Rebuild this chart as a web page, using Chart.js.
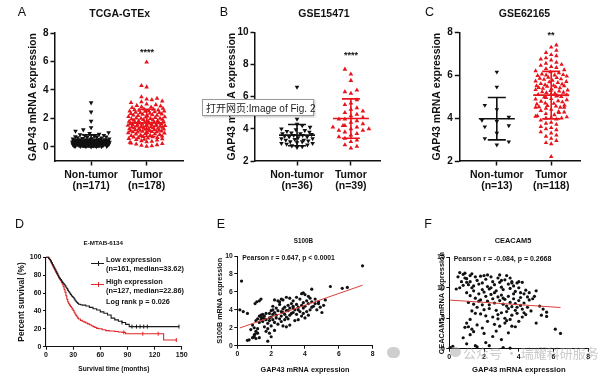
<!DOCTYPE html>
<html><head><meta charset="utf-8">
<script src="https://cdn.jsdelivr.net/npm/chart.js@4.4.1/dist/chart.umd.min.js"></script>
<style>
html,body{margin:0;padding:0;background:#fff;}
body{width:600px;height:382px;position:relative;overflow:hidden;font-family:"Liberation Sans",Arial,Helvetica,sans-serif;}
canvas{position:absolute;}
.t{position:absolute;white-space:nowrap;color:#111;line-height:1;}
.cc{transform:translate(-50%,-50%);}
.lc{transform:translateY(-50%);}
</style></head><body>
<canvas id="cA"></canvas><canvas id="cB"></canvas><canvas id="cC"></canvas>
<canvas id="cD"></canvas><canvas id="cE"></canvas><canvas id="cF"></canvas>
<div id="ov"></div>
<script>
// ================= DATA =================
const groupLabels = ['Non-tumor', 'Tumor'];
const nLabelsA = ['(n=171)', '(n=178)'];
const nLabelsB = ['(n=36)', '(n=39)'];
const nLabelsC = ['(n=13)', '(n=118)'];
const yTicksA = [0, 2, 4, 6, 8];
const yTicksB = [2, 4, 6, 8, 10];
const yTicksC = [2, 4, 6, 8];

const aNonTumor = [3.1, 2.45, 1.8, 1.35, 1.2, 1.1, 1.0, 0.95, 0.9, 0.85, 0.8, 0.78, 0.75, 0.72, 0.7, 0.68, 0.66, 0.64, 0.62, 0.6,
  0.58, 0.56, 0.55, 0.54, 0.52, 0.51, 0.5, 0.5, 0.49, 0.48, 0.47, 0.46, 0.45, 0.45, 0.44, 0.43, 0.42, 0.42, 0.41, 0.4,
  0.4, 0.4, 0.39, 0.38, 0.38, 0.37, 0.37, 0.36, 0.36, 0.35, 0.35, 0.35, 0.34, 0.34, 0.33, 0.33, 0.32, 0.32, 0.31, 0.31,
  0.3, 0.3, 0.3, 0.3, 0.29, 0.29, 0.28, 0.28, 0.27, 0.27, 0.26, 0.26, 0.25, 0.25, 0.25, 0.24, 0.24, 0.23, 0.23, 0.22,
  0.22, 0.21, 0.21, 0.2, 0.2, 0.2, 0.19, 0.19, 0.18, 0.18, 0.17, 0.17, 0.16, 0.16, 0.15, 0.15, 0.14, 0.13, 0.13, 0.12,
  0.12, 0.11, 0.1, 0.1, 0.09, 0.08, 0.08, 0.07, 0.06, 0.05, 0.05, 0.04, 0.03, 0.02, 0.02, 0.01, 0.0];
const aTumor = [5.95, 4.3, 4.2, 3.5, 3.4, 3.35, 3.3, 3.2, 3.15, 3.1, 3.0,
  2.95, 2.9, 2.85, 2.8, 2.78, 2.75, 2.7, 2.65, 2.62, 2.6, 2.58, 2.55, 2.52, 2.5, 2.5,
  2.48, 2.45, 2.42, 2.4, 2.38, 2.35, 2.33, 2.3, 2.28, 2.25, 2.22, 2.2, 2.18, 2.15, 2.12, 2.1, 2.08, 2.05, 2.02, 2.0, 2.0,
  1.98, 1.95, 1.93, 1.9, 1.88, 1.86, 1.84, 1.82, 1.8, 1.78, 1.76, 1.74, 1.72, 1.7, 1.68, 1.66, 1.64, 1.62, 1.6, 1.58,
  1.56, 1.55, 1.54, 1.52, 1.5, 1.5, 1.49, 1.48, 1.46, 1.45, 1.44, 1.42, 1.4, 1.38, 1.36, 1.35, 1.34, 1.32, 1.3, 1.28,
  1.26, 1.25, 1.24, 1.22, 1.2, 1.18, 1.16, 1.15, 1.14, 1.12, 1.1, 1.08, 1.06, 1.05, 1.04, 1.02, 1.0,
  0.98, 0.95, 0.92, 0.9, 0.88, 0.85, 0.82, 0.8, 0.78, 0.75, 0.72, 0.7, 0.68, 0.65, 0.62, 0.6, 0.58, 0.55, 0.52, 0.5,
  0.46, 0.42, 0.38, 0.34, 0.3, 0.26, 0.22, 0.18, 0.14, 0.1, 0.06, 0.02];
const bNonTumor = [6.6, 4.6, 4.3, 4.2, 4.1, 4.0, 3.95, 3.9, 3.85, 3.8, 3.75, 3.7, 3.7, 3.65, 3.6, 3.6, 3.55, 3.5,
  3.5, 3.45, 3.4, 3.4, 3.35, 3.3, 3.3, 3.25, 3.2, 3.2, 3.15, 3.1, 3.1, 3.05, 3.0, 2.95, 2.9, 2.85];
const bTumor = [7.7, 7.4, 7.0, 6.4, 6.3, 6.2, 5.8, 5.6, 5.5, 5.3, 5.2, 5.1, 5.0, 4.9, 4.8, 4.7, 4.6, 4.6, 4.5, 4.4,
  4.3, 4.2, 4.2, 4.1, 4.1, 4.0, 4.0, 3.9, 3.9, 3.8, 3.7, 3.6, 3.5, 3.4, 3.3, 3.2, 3.0, 2.9, 2.8];
const cNonTumor = [6.15, 5.45, 4.6, 4.4, 4.05, 3.9, 3.85, 3.65, 3.6, 3.3, 3.05, 2.9, 2.75];
const cTumor = [7.4, 7.3, 7.15, 7.05,
  6.95, 6.9, 6.8, 6.75, 6.7, 6.6, 6.55, 6.5,
  6.45, 6.4, 6.35, 6.3, 6.25, 6.2, 6.15, 6.1, 6.05, 6.0, 6.0, 6.02,
  5.98, 5.95, 5.9, 5.88, 5.85, 5.82, 5.8, 5.75, 5.72, 5.7, 5.68, 5.65, 5.6, 5.58, 5.55, 5.52, 5.5, 5.5,
  5.48, 5.45, 5.42, 5.4, 5.38, 5.35, 5.32, 5.3, 5.28, 5.25, 5.22, 5.2, 5.18, 5.15, 5.12, 5.1, 5.08, 5.05, 5.02, 5.0,
  4.98, 4.95, 4.9, 4.88, 4.85, 4.8, 4.78, 4.75, 4.7, 4.68, 4.65, 4.6, 4.58, 4.55, 4.52, 4.5, 4.5, 4.5,
  4.45, 4.4, 4.35, 4.3, 4.28, 4.25, 4.2, 4.15, 4.1, 4.08, 4.05, 4.0, 4.0, 4.02,
  3.95, 3.9, 3.8, 3.75, 3.7, 3.6, 3.55, 3.5,
  3.45, 3.35, 3.3, 3.2, 3.15, 3.05,
  2.95, 2.85, 2.8, 2.2];

// Kaplan-Meier (E-MTAB-6134)
const kmXTicks = [0, 30, 60, 90, 120, 150];
const kmYTicks = [0, 20, 40, 60, 80, 100];
const kmLowTime = [0, 2, 3, 4, 5, 6, 7, 8, 9, 10, 11, 12, 13, 14, 15, 16, 17, 18, 19, 20, 21, 22, 23, 24, 25, 26, 27, 28, 29, 30,
  31, 32, 33, 34, 35, 36, 38, 40, 44, 48, 52, 56, 60, 64, 68, 72, 76, 80, 84, 88, 92, 147];
const kmLowSurv = [100, 100, 98.8, 97.5, 96, 94, 92, 90, 88, 86, 84, 82, 80, 78, 76.5, 75, 73.5, 72, 71, 69.5, 68, 66.5, 65, 63, 61.5, 60, 58.5, 57, 56, 55,
  53.5, 52, 50.5, 49.5, 48.5, 47.5, 47, 46.5, 45.5, 44, 42.5, 41, 39, 37.5, 35.5, 32, 30, 28.5, 27, 25, 22.5, 22.5];
const kmHighTime = [0, 2, 3, 4, 5, 6, 7, 8, 9, 10, 11, 12, 13, 14, 15, 16, 17, 18, 19, 20, 21, 22, 23, 24, 25, 26, 27, 28, 29, 30,
  31, 32, 33, 34, 35, 36, 38, 40, 42, 44, 46, 48, 50, 52, 54, 56, 58, 62, 66, 70, 76, 80, 84, 88, 130, 145];
const kmHighSurv = [100, 100, 98.5, 97, 95, 93, 91, 89, 87, 85, 83, 81, 79, 77, 75.5, 74, 72, 70, 67, 64, 61, 57, 53, 50, 48, 46.5, 45, 43.5, 42, 40.5,
  38.5, 36.5, 35, 33.5, 32, 31, 29.5, 28.5, 27.5, 26.5, 25.5, 24.5, 23.5, 22.5, 21.5, 20.5, 20, 19, 18, 17.5, 17, 16.5, 16, 14.5, 7.5, 7.5];
const kmLowCensor = [84, 95, 100, 104, 108, 112, 147];
const kmHighCensor = [86, 107, 124, 144];
const kmLegend = ['Low expression', '(n=161, median=33.62)', 'High expression', '(n=127, median=22.86)', 'Log rank p = 0.026'];

// Correlations
const eTicksX = [0, 2, 4, 6, 8], eTicksY = [0, 2, 4, 6, 8, 10];
const fTicksX = [0, 2, 4, 6, 8], fTicksY = [0, 5, 10, 15];
const eGap43 = [0.6, 0.7, 0.9, 1.1, 1.3, 1.8, 1.0, 1.1, 1.2, 0.9, 1.0, 1.05, 1.3, 1.4, 1.5, 1.6, 1.2, 1.4, 1.1, 0.8, 1.7, 1.9, 2.0, 1.6, 1.8, 1.9, 2.0, 2.1, 1.7, 1.5,
  1.3, 1.4, 1.05, 1.15, 2.2, 2.4, 2.6, 2.9, 3.1, 3.3, 3.5, 3.8, 3.9, 4.0, 4.2, 4.3, 4.6, 4.8, 4.1, 3.7, 3.2, 3.0, 2.8, 2.5, 2.3, 2.1, 2.0, 2.2, 2.4, 2.6,
  2.7, 2.9, 3.1, 3.3, 3.5, 3.6, 3.8, 3.9, 4.0, 4.2, 4.4, 4.5, 4.7, 4.9, 5.0, 5.1, 4.3, 4.1, 3.9, 3.7, 3.5, 3.3, 3.1, 2.9, 2.8, 2.6, 2.5, 2.3, 2.1, 2.2,
  2.4, 2.6, 2.8, 3.0, 3.2, 3.4, 2.7, 2.9, 3.1, 3.4, 3.6, 3.8, 4.0, 4.2, 2.0, 1.8, 1.5, 1.7, 1.9, 2.3, 2.7, 3.0, 3.3, 3.6, 3.9, 4.4, 4.6, 4.8, 1.9, 2.1,
  2.5, 2.7, 1.6, 1.4, 1.3, 2.2, 1.2, 1.0, 5.5, 6.2, 6.5, 7.4, 0.25, 0.15, 0.35, 0.6, 4.4, 5.2];
const eS100b = [0.6, 0.65, 0.9, 0.8, 0.9, 0.5, 1.2, 1.6, 1.9, 2.3, 2.0, 1.3, 2.6, 2.9, 3.1, 3.3, 3.0, 3.4, 2.8, 1.8, 1.6, 1.4, 1.0, 2.1, 2.5, 2.8, 3.2, 3.5, 3.6, 3.5,
  5.0, 5.2, 4.7, 4.9, 5.1, 5.0, 5.2, 5.4, 5.3, 5.0, 5.4, 5.8, 5.9, 5.7, 5.5, 5.3, 5.2, 4.7, 5.0, 5.2, 4.7, 4.5, 4.3, 4.6, 4.2, 4.0, 3.9, 3.7, 3.9, 3.8,
  4.1, 3.9, 4.2, 4.4, 4.6, 4.3, 4.5, 4.8, 4.4, 4.7, 4.9, 4.4, 4.0, 4.3, 3.7, 4.5, 4.0, 3.8, 3.6, 3.8, 3.5, 3.7, 3.4, 3.2, 3.5, 3.3, 3.0, 3.1, 2.9, 2.6,
  2.4, 2.7, 2.9, 3.0, 3.6, 4.0, 2.2, 2.1, 2.3, 2.8, 2.9, 3.3, 3.1, 3.4, 2.2, 1.9, 2.7, 2.9, 3.1, 3.4, 3.7, 3.9, 4.2, 4.0, 4.2, 4.3, 4.7, 4.9, 3.6, 4.4,
  4.9, 5.1, 3.0, 3.2, 3.3, 1.7, 1.4, 1.0, 6.6, 6.4, 6.5, 8.9, 7.2, 4.0, 3.8, 3.6, 6.3, 5.1];
const fGap43 = [0.6, 0.8, 0.6, 1.0, 1.2, 1.1, 1.3, 1.5, 1.6, 1.8, 1.9, 2.0, 2.1, 2.2, 2.3, 2.5, 2.6, 2.7, 2.8, 2.9, 3.0, 3.1, 3.2, 3.3, 3.4, 3.5, 3.6, 3.7, 3.8, 3.9,
  4.0, 4.1, 4.2, 4.4, 4.5, 4.8, 5.0, 1.0, 1.2, 1.4, 1.5, 1.7, 1.8, 2.0, 2.1, 2.2, 2.4, 2.5, 2.6, 2.8, 2.9, 3.0, 3.1, 3.2, 3.3, 3.4, 3.5, 3.6, 3.7, 3.8,
  3.9, 4.0, 4.1, 4.2, 4.3, 4.5, 4.6, 4.7, 5.2, 5.4, 5.6, 5.3, 1.3, 1.6, 1.9, 2.3, 2.7, 3.0, 3.3, 3.6, 3.9, 4.2, 4.4, 4.0, 2.5, 2.8, 3.2, 3.5, 2.1, 1.8,
  1.5, 1.2, 1.0, 0.9, 1.1, 1.3, 0.8, 1.0, 1.2, 1.4, 1.6, 1.9, 2.0, 2.1, 2.3, 2.5, 2.6, 2.7, 2.9, 3.0, 3.2, 3.4, 3.6, 3.8, 3.1, 3.5, 1.6, 1.5, 2.2, 3.3,
  6.1, 6.4, 0.05, 0.2, 0.4, 0.9, 1.4, 1.7, 2.4, 2.9, 3.6, 4.3, 4.6, 4.9, 1.9, 2.6, 3.1, 3.7, 4.1, 2.3, 2.0, 2.8, 3.4, 3.8, 4.3, 1.1, 1.4, 1.7, 2.4, 3.5,
  4.0, 3.0, 2.2, 1.3, 0.5, 0.7, 0.8, 0.9, 1.0, 1.2, 5.0, 5.6];
const fCeacam5 = [12.5, 12.2, 10.0, 11.5, 11.0, 10.5, 10.0, 11.8, 11.2, 11.9, 10.8, 12.0, 11.4, 10.2, 9.8, 11.0, 10.5, 9.5, 11.6, 10.9, 10.1, 9.7, 11.3, 12.0, 10.6, 9.9, 11.0, 10.3, 9.4, 10.8,
  10.0, 9.2, 10.9, 9.6, 8.5, 8.2, 9.5, 9.2, 8.7, 9.5, 8.3, 9.0, 8.0, 9.3, 8.6, 7.8, 8.9, 8.2, 7.5, 8.5, 7.9, 8.8, 7.3, 8.1, 7.0, 8.6, 7.6, 6.9, 8.2, 7.4,
  6.8, 7.9, 7.1, 6.5, 7.5, 6.8, 8.0, 6.2, 7.0, 6.5, 6.0, 5.5, 6.2, 6.8, 7.2, 6.6, 6.3, 5.9, 6.1, 5.5, 5.8, 5.2, 5.6, 4.5, 5.2, 4.9, 5.0, 4.8, 5.4, 5.7,
  5.8, 4.8, 4.2, 3.5, 3.6, 3.2, 1.8, 0.8, 2.3, 2.8, 3.9, 3.4, 2.5, 1.0, 0.5, 2.0, 4.0, 2.9, 3.7, 1.5, 4.2, 2.6, 3.7, 3.6, 0.2, 0.1, 0.3, 0.5, 4.5, 4.6,
  3.2, 2.5, 0.2, 0.4, 9.8, 11.6, 10.3, 10.6, 11.8, 12.1, 10.8, 9.0, 9.2, 8.6, 9.7, 9.2, 8.3, 9.0, 8.4, 7.2, 6.4, 5.6, 6.6, 6.3, 5.9, 7.6, 7.3, 7.8, 10.0, 11.6,
  11.0, 11.2, 12.1, 12.3, 11.8, 11.0, 10.4, 12.4, 10.9, 12.0, 4.2, 5.3];

// ================= HELPERS =================
const FF = '"Liberation Sans", Arial, Helvetica, sans-serif';
const RED = '#e8141c', BLK = '#111111';

function vdc(n) { let v = 0, d = 1; while (n > 0) { d *= 2; v += (n % 2) / d; n = Math.floor(n / 2); } return v; }

// deterministic beeswarm layout: offsets come from collision avoidance, not from data
function swarm(vals, c, pxX, pxY, sep, maxHalfPx) {
  const idx = vals.map((v, i) => i).sort((a, b) => vals[a] - vals[b]);
  const placed = [], out = [];
  idx.forEach((i, k) => {
    const y = vals[i] * pxY; let off = null;
    for (let s = 0; s * sep.step <= maxHalfPx && off === null; s++) {
      const d = s * sep.step;
      const cands = s === 0 ? [0] : (k % 2 ? [d, -d] : [-d, d]);
      for (const cx of cands) {
        if (placed.every(p => Math.abs(p.x - cx) >= sep.x || Math.abs(p.y - y) >= sep.y)) { off = cx; break; }
      }
    }
    if (off === null) off = maxHalfPx * (2 * vdc(k + 1) - 1);
    placed.push({ x: off, y });
    out.push({ x: c + off / pxX, y: vals[i] });
  });
  return out;
}
function meanSd(vals) {
  const n = vals.length, m = vals.reduce((a, b) => a + b, 0) / n;
  const sd = Math.sqrt(vals.reduce((a, b) => a + (b - m) ** 2, 0) / (n - 1));
  return { m, sd };
}
function errBar(c, vals, hm, hc) {
  const { m, sd } = meanSd(vals);
  return [{ x: c - hm, y: m }, { x: c + hm, y: m }, { x: c, y: null },
  { x: c - hc, y: m + sd }, { x: c + hc, y: m + sd }, { x: c, y: null },
  { x: c - hc, y: m - sd }, { x: c + hc, y: m - sd }, { x: c, y: null },
  { x: c, y: m - sd }, { x: c, y: m + sd }];
}
function scaleOpts(o) {
  return {
    type: 'linear', min: o.min, max: o.max,
    afterBuildTicks: s => { s.ticks = o.ticks.map(v => ({ value: v })); },
    afterFit: s => { if (s.isHorizontal()) s.height = o.size; else s.width = o.size; },
    grid: { display: true, drawOnChartArea: false, drawTicks: true, tickLength: o.tl, tickWidth: o.lw, tickColor: BLK },
    border: { display: true, color: BLK, width: o.lw },
    ticks: { color: BLK, autoSkip: false, maxRotation: 0, minRotation: 0, padding: o.pad,
      font: { family: FF, size: o.fs, weight: 'bold', lineHeight: o.lh || 1.2 }, callback: o.cb || (v => String(v)) },
    title: o.title ? { display: true, text: o.title, color: BLK, padding: 0,
      font: { family: FF, size: o.tfs, weight: 'bold', lineHeight: 1.2 } } : { display: false }
  };
}
function build(id, box, area, xo, yo, datasets) {
  const cv = document.getElementById(id);
  cv.width = box.w; cv.height = box.h;
  cv.style.left = box.l + 'px'; cv.style.top = box.t + 'px';
  cv.style.width = box.w + 'px'; cv.style.height = box.h + 'px';
  return new Chart(cv, {
    type: 'scatter', data: { datasets },
    options: {
      responsive: false, animation: false, events: [], devicePixelRatio: 1,
      layout: { padding: { left: area.l - yo.size, top: area.t, right: box.w - area.r, bottom: box.h - area.b - xo.size } },
      plugins: { legend: { display: false }, tooltip: { enabled: false }, title: { display: false } },
      scales: { x: scaleOpts(xo), y: scaleOpts(yo) }
    }
  });
}
function pts(color, down, r, data) {
  return { data, pointStyle: 'triangle', rotation: down ? 180 : 0, pointRadius: r, backgroundColor: color,
    borderColor: color, borderWidth: 0, clip: false, order: 2 };
}
function bar(data, color) {
  return { data, showLine: true, spanGaps: false, borderColor: color, borderWidth: 1.6, pointRadius: 0, clip: false, order: 1 };
}

// ================= DOT PLOTS (A, B, C) =================
function dotPanel(id, box, area, yMin, yMax, yTicks, xMin, xMax, nLabels, g1, g2, yTitle, r, maxHalf, sep1, sep2) {
  const pxY = (area.b - area.t) / (yMax - yMin), pxX = (area.r - area.l) / (xMax - xMin);
  const s1 = swarm(g1, 1, pxX, pxY, sep1, maxHalf), s2 = swarm(g2, 2, pxX, pxY, sep2, maxHalf);
  const hm = 18 / pxX, hc = 9 / pxX;
  build(id, box, area,
    { min: xMin, max: xMax, ticks: [1, 2], size: 39, tl: 4.5, lw: 1.5, fs: 10.5, lh: 1.12, pad: 3.4,
      cb: v => [groupLabels[v - 1], nLabels[v - 1]] },
    { min: yMin, max: yMax, ticks: yTicks, size: area.l - area.yt + 6.3, tl: 4.5, lw: 1.5, fs: 10, pad: 2,
      title: yTitle, tfs: 10.5 },
    [bar(errBar(1, g1, hm, hc), BLK), bar(errBar(2, g2, hm, hc), RED),
     pts(BLK, true, r, s1), pts(RED, false, r, s2)]);
}
const dense = { x: 4.3, y: 4.3, step: 2.6 };
const sparse = { x: 11, y: 8, step: 6 };
dotPanel('cA', { l: 0, t: 0, w: 200, h: 200 }, { l: 55, t: 33, r: 183.3, b: 161, yt: 33 }, -1, 8, yTicksA, 0.35, 2.66,
  nLabelsA, aNonTumor, aTumor, 'GAP43 mRNA expression', 2.7, 19, dense, dense);
dotPanel('cB', { l: 200, t: 0, w: 200, h: 200 }, { l: 55, t: 32.3, r: 180, b: 161, yt: 32 }, 2, 10, yTicksB, 0.22, 2.54,
  nLabelsB, bNonTumor, bTumor, 'GAP43 mRNA expression', 2.7, 18, dense, { x: 6, y: 5, step: 3 });
dotPanel('cC', { l: 400, t: 0, w: 200, h: 200 }, { l: 59.3, t: 32.3, r: 180, b: 161, yt: 37 }, 2, 8, yTicksC, 0.31, 2.53,
  nLabelsC, cNonTumor, cTumor, 'GAP43 mRNA expression', 2.6, 17, sparse, dense);

// ================= KAPLAN-MEIER (D) =================
function kmAt(times, surv, t) { let s = surv[0]; for (let i = 0; i < times.length; i++) { if (times[i] <= t) s = surv[i]; } return s; }
const kmLowPts = kmLowTime.map((t, i) => ({ x: t, y: kmLowSurv[i] }));
const kmHighPts = kmHighTime.map((t, i) => ({ x: t, y: kmHighSurv[i] }));
build('cD', { l: 0, t: 200, w: 200, h: 182 }, { l: 46, t: 57.3, r: 181.7, b: 146.7 },
  { min: 0, max: 150, ticks: kmXTicks, size: 26.5, tl: 3, lw: 1.1, fs: 7, pad: 1.5, title: 'Survival time (months)', tfs: 6.6 },
  { min: 0, max: 100, ticks: kmYTicks, size: 46 - 16.6, tl: 3, lw: 1.1, fs: 7, pad: 1.5, title: 'Percent survival (%)', tfs: 8.3 },
  [
    { data: kmLowPts, showLine: true, stepped: true, borderColor: '#1a1a1a', borderWidth: 1.1, pointRadius: 0, clip: false },
    { data: kmHighPts, showLine: true, stepped: true, borderColor: '#e0262a', borderWidth: 1.1, pointRadius: 0, clip: false },
    { data: kmLowCensor.map(t => ({ x: t, y: kmAt(kmLowTime, kmLowSurv, t) })), pointStyle: 'line', rotation: 90,
      pointRadius: 2, borderColor: '#1a1a1a', borderWidth: 1, clip: false },
    { data: kmHighCensor.map(t => ({ x: t, y: kmAt(kmHighTime, kmHighSurv, t) })), pointStyle: 'line', rotation: 90,
      pointRadius: 2, borderColor: '#e0262a', borderWidth: 1, clip: false }
  ]);

// ================= CORRELATIONS (E, F) =================
function fitLine(xs, ys) {
  const n = xs.length, mx = xs.reduce((a, b) => a + b, 0) / n, my = ys.reduce((a, b) => a + b, 0) / n;
  let sxy = 0, sxx = 0; xs.forEach((x, i) => { sxy += (x - mx) * (ys[i] - my); sxx += (x - mx) ** 2; });
  const b = sxy / sxx, a = my - b * mx, x0 = Math.min(...xs), x1 = Math.max(...xs);
  return [{ x: x0, y: a + b * x0 }, { x: x1, y: a + b * x1 }];
}
function corrPanel(id, box, area, xo, yo, xs, ys) {
  build(id, box, area, xo, yo, [
    { data: fitLine(xs, ys), showLine: true, borderColor: '#d8403c', borderWidth: 1, pointRadius: 0, clip: false, order: 1 },
    { data: xs.map((x, i) => ({ x, y: ys[i] })), pointRadius: 1.6, backgroundColor: '#111', borderWidth: 0, clip: false, order: 2 }
  ]);
}
corrPanel('cE', { l: 200, t: 200, w: 200, h: 182 }, { l: 37.3, t: 56, r: 172.7, b: 145.7 },
  { min: 0, max: 8, ticks: eTicksX, size: 28.7, tl: 3, lw: 1, fs: 6.8, pad: 1.5, title: 'GAP43 mRNA expression', tfs: 7.3 },
  { min: 0, max: 10, ticks: eTicksY, size: 21.6, tl: 3, lw: 1, fs: 6.8, pad: 1.5, title: 'S100B mRNA expression', tfs: 7.2 },
  eGap43, eS100b);
corrPanel('cF', { l: 400, t: 200, w: 200, h: 182 }, { l: 49.3, t: 57.3, r: 188.3, b: 148.7 },
  { min: 0, max: 8, ticks: fTicksX, size: 25.9, tl: 3, lw: 1, fs: 7, pad: 1.5, title: 'GAP43 mRNA expression', tfs: 7.7 },
  { min: 0, max: 15, ticks: fTicksY, size: 12, tl: 3, lw: 1, fs: 7, pad: 1.5, title: 'CEACAM5 mRNA expression', tfs: 7.4 },
  fGap43, fCeacam5);

// ================= TEXT OVERLAYS =================
const ov = document.getElementById('ov');
function txt(s, x, y, size, opts = {}) {
  const d = document.createElement('div');
  d.className = 't ' + (opts.left ? 'lc' : 'cc');
  d.textContent = s;
  d.style.left = x + 'px'; d.style.top = y + 'px'; d.style.fontSize = size + 'px';
  d.style.fontWeight = opts.bold ? 'bold' : 'normal';
  if (opts.color) d.style.color = opts.color;
  if (opts.family) d.style.fontFamily = opts.family;
  ov.appendChild(d); return d;
}
[['A', 22, 11.5], ['B', 224, 11.5], ['C', 429.5, 11.5], ['D', 19.5, 223.5], ['E', 221, 224], ['F', 428, 224]]
  .forEach(([s, x, y]) => txt(s, x, y, 12.5));
txt('TCGA-GTEx', 119.7, 13, 10.5, { bold: true });
txt('GSE15471', 324, 13, 10.5, { bold: true });
txt('GSE62165', 524.5, 13, 10.5, { bold: true });
txt('E-MTAB-6134', 103.3, 242.7, 6.2, { bold: true });
txt('S100B', 303.5, 241, 6.3, { bold: true });
txt('CEACAM5', 513, 240.7, 7.4, { bold: true });
txt('****', 147, 52, 9, { bold: true });
txt('****', 351, 55, 9, { bold: true });
txt('**', 551, 35, 9, { bold: true });
txt('Pearson r = 0.647, p < 0.0001', 242.3, 258.3, 6.8, { bold: true, left: true });
txt('Pearson r = -0.084, p = 0.2668', 453.7, 258.3, 7.0, { bold: true, left: true });
txt(kmLegend[0], 106, 260, 7.3, { bold: true, left: true });
txt(kmLegend[1], 106, 269, 7.3, { bold: true, left: true });
txt(kmLegend[2], 106, 282, 7.3, { bold: true, left: true });
txt(kmLegend[3], 106, 291, 7.3, { bold: true, left: true });
txt(kmLegend[4], 106, 302.2, 7.3, { bold: true, left: true });
function legLine(x, y, w, color) {
  const l = document.createElement('div');
  l.style.cssText = `position:absolute;left:${x}px;top:${y}px;width:${w}px;height:1px;background:${color}`;
  const tk = document.createElement('div');
  tk.style.cssText = `position:absolute;left:${x + w / 2}px;top:${y - 2}px;width:1px;height:5px;background:${color}`;
  ov.appendChild(l); ov.appendChild(tk);
}
legLine(91, 263, 13, '#1a1a1a');
legLine(91, 284, 13, '#e0262a');
// browser tooltip overlay
const tip = document.createElement('div');
tip.style.cssText = 'position:absolute;left:202px;top:99px;width:112px;height:17px;background:#fff;border:1px solid #9a9a9a;box-shadow:1px 1px 2px rgba(0,0,0,0.25);font:10px "Liberation Sans","Noto Sans CJK SC",sans-serif;line-height:17px;padding-left:3px;box-sizing:border-box;color:#222;white-space:nowrap;';
tip.textContent = '打开网页:Image of Fig. 2';
ov.appendChild(tip);
// watermark
const ic = document.createElement('div');
ic.style.cssText = 'position:absolute;left:387px;top:347px;width:13px;height:11px;border-radius:6px;background:rgba(165,165,165,0.55);';
ov.appendChild(ic);
const ic2 = document.createElement('div');
ic2.style.cssText = 'position:absolute;left:450px;top:347px;width:11px;height:10px;border-radius:5px;background:rgba(165,165,165,0.5);';
ov.appendChild(ic2);
const wm = document.createElement('div');
wm.style.cssText = 'position:absolute;left:463px;top:344px;font:13px "Noto Sans CJK SC",sans-serif;color:rgba(150,150,150,0.5);white-space:nowrap;line-height:17px;';
wm.textContent = '公众号 · 瑞耀科研服务';
ov.appendChild(wm);
</script>
</body></html>
